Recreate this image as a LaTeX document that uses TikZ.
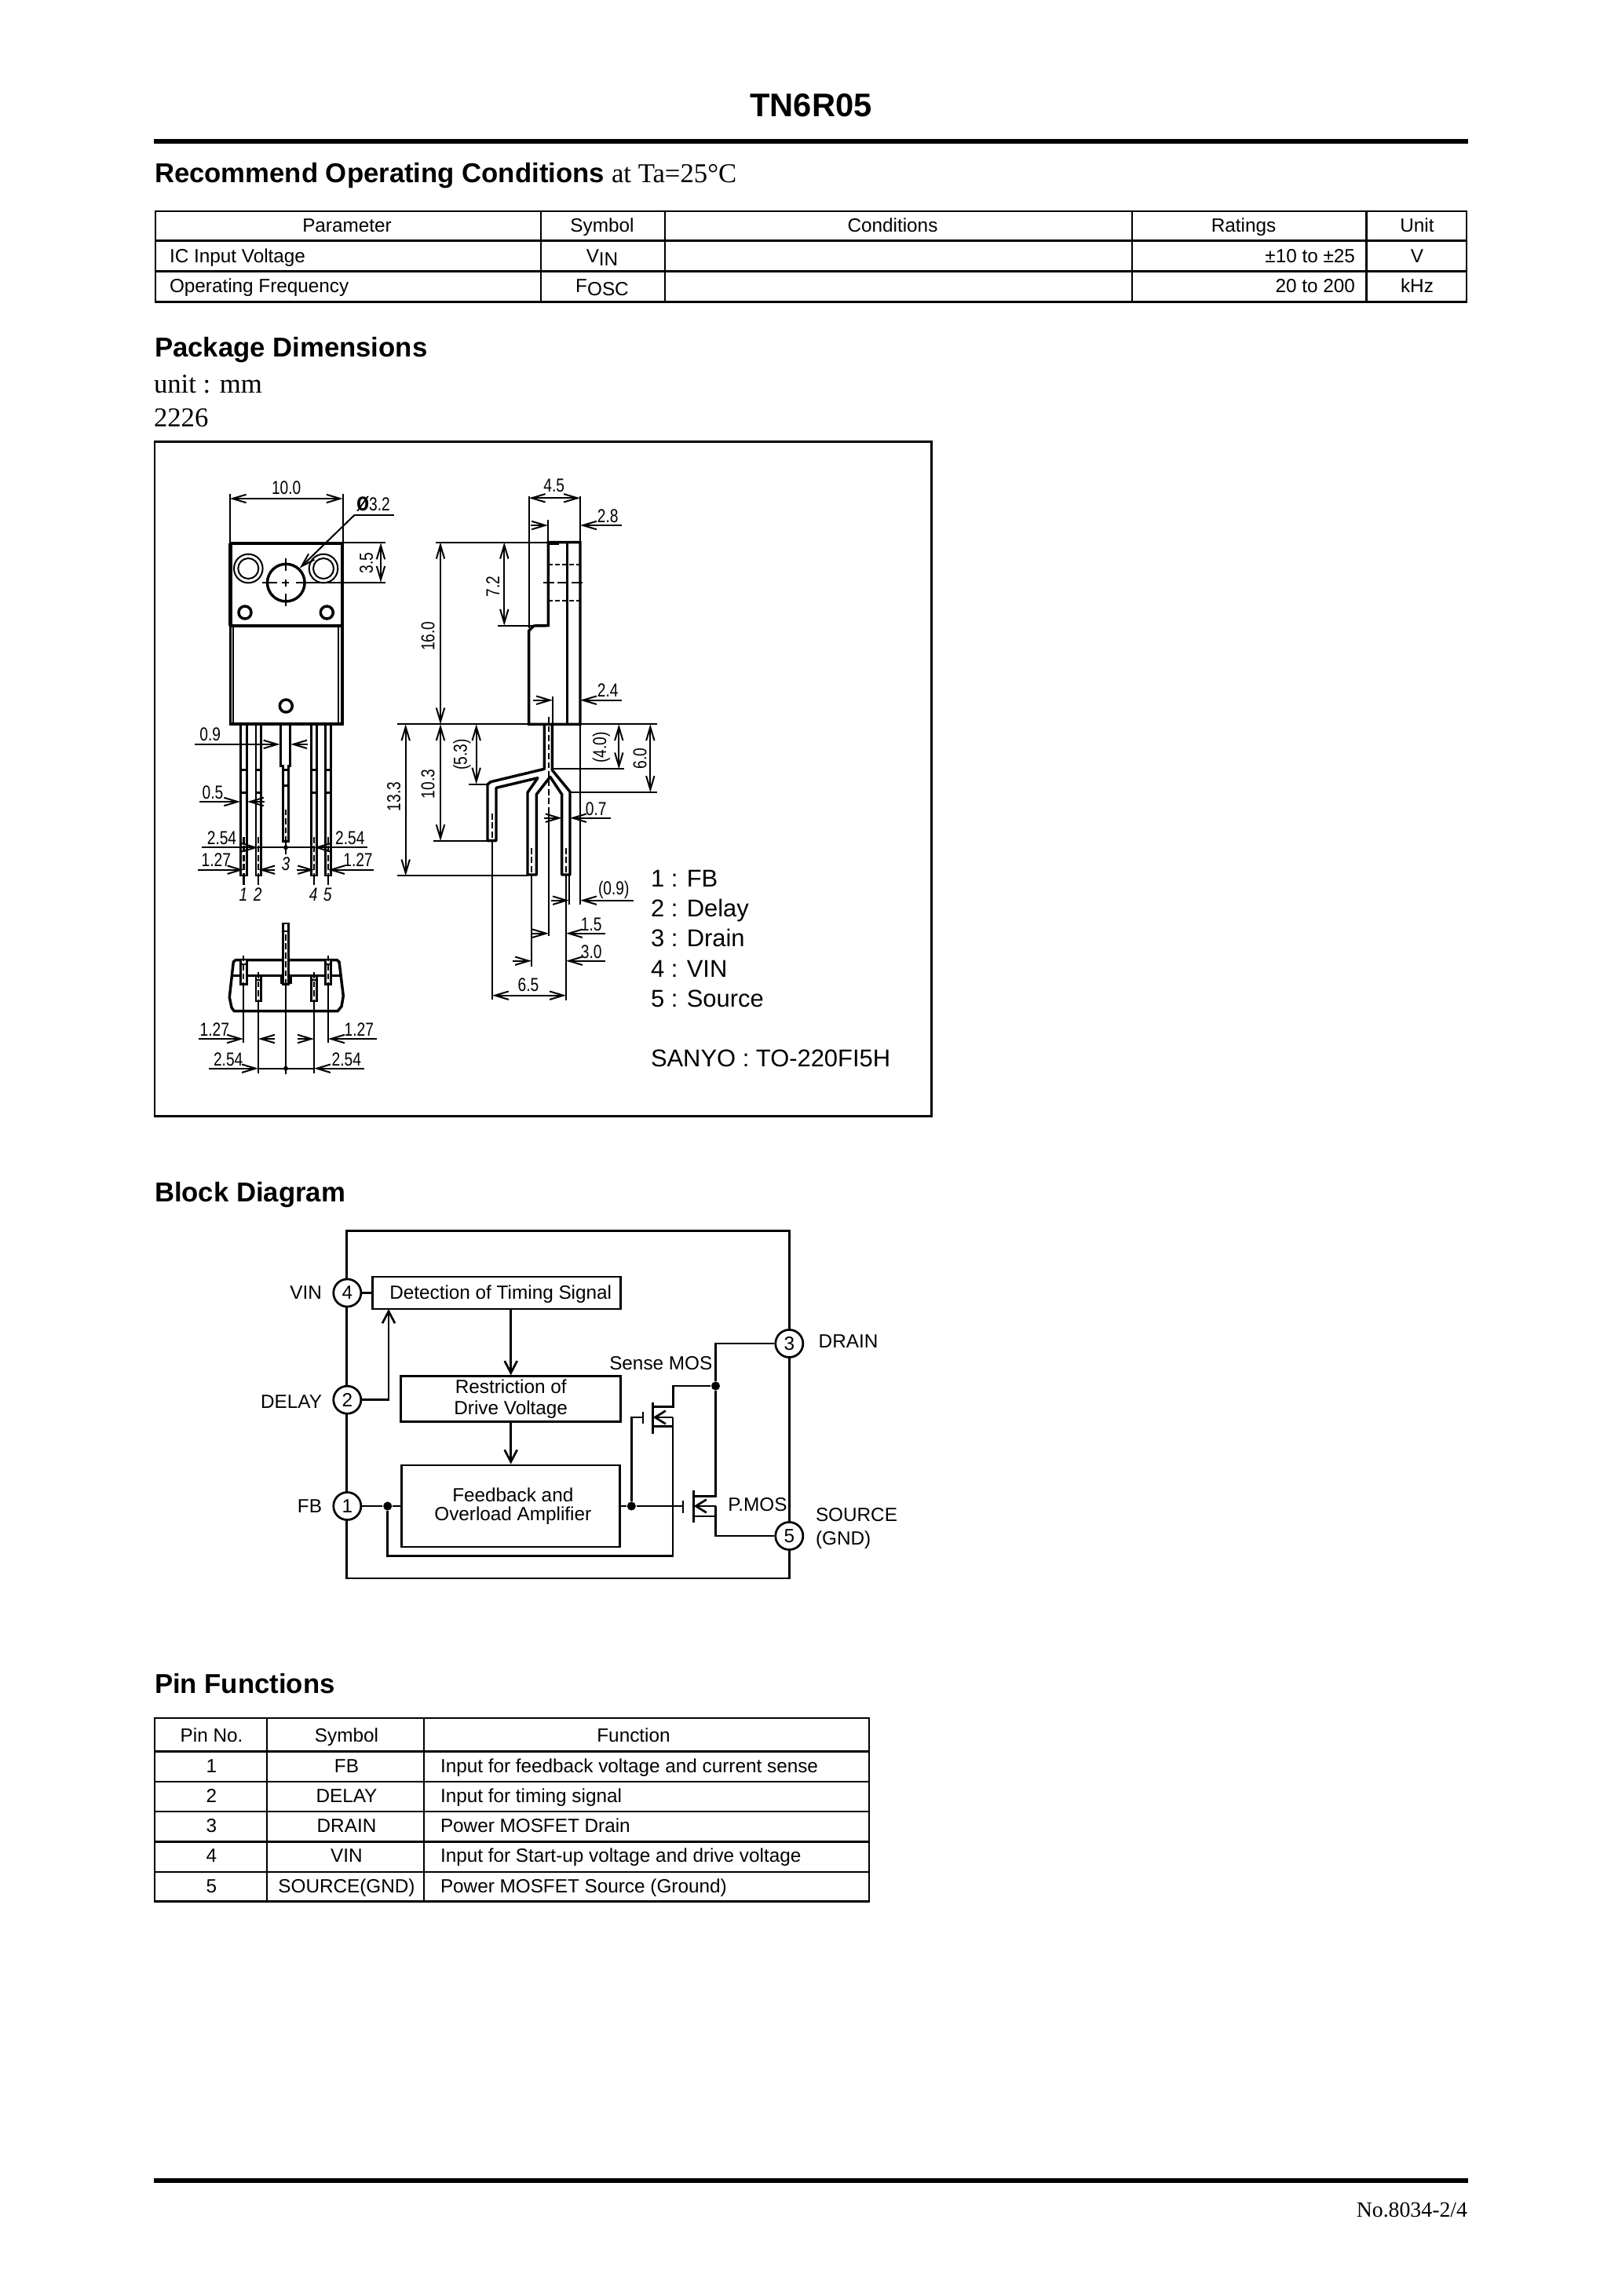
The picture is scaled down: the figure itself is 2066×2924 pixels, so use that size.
\documentclass[tikz,border=0pt]{standalone}
\usepackage{fontspec}
\usetikzlibrary{arrows.meta}
\setmainfont{Liberation Sans}
\newfontfamily\serifpart{Liberation Serif}
\newfontfamily\narrowpart[FakeStretch=0.8]{Liberation Sans}
\newcommand{\titlefont}{\fontsize{12}{14}\bfseries\selectfont}
\newcommand{\headfont}{\fontsize{10}{12}\bfseries\selectfont}
\newcommand{\tablefont}{\fontsize{7}{8}\selectfont}
\newcommand{\dimfont}{\narrowpart\fontsize{6.9}{8}\selectfont}
\tikzset{
    thinline/.style={line width=0.58pt},
    bodyline/.style={line width=1pt},
    tableline/.style={line width=0.72pt},
    wire/.style={line width=0.78pt},
    hiddenline/.style={thinline, dash pattern=on 2.2pt off 1.1pt},
    barb/.style={>={Straight Barb[length=5pt,width=3pt]}},
    dimline/.style={thinline, barb, <->},
    dimto/.style={thinline, barb, ->},
    wireto/.style={wire, >={Straight Barb[length=4.4pt,width=4.6pt]}, ->},
    mosto/.style={wire, >={Straight Barb[length=3.9pt,width=4.8pt]}, ->},
    plain/.style={inner sep=0pt, outer sep=0pt},
    heading/.style={plain, anchor=base west, font=\headfont},
    serifnote/.style={plain, anchor=base west, font=\serifpart\fontsize{10}{12}\selectfont},
    celltext/.style={plain, anchor=base, font=\tablefont},
    cellleft/.style={plain, anchor=base west, font=\tablefont},
    dimlabel/.style={plain, anchor=base, font=\dimfont},
    dimside/.style={plain, rotate=90, font=\dimfont},
    pinmark/.style={plain, anchor=base, font=\dimfont\itshape},
    legend/.style={plain, anchor=base west, font=\fontsize{8.9}{11}\selectfont},
    blockbox/.style={draw, wire, fill=white, inner sep=0pt, align=center},
    pinnode/.style={draw, wire, circle, fill=white, inner sep=0pt, minimum size=10.1pt, font=\tablefont},
    dotnode/.style={circle, fill, inner sep=0pt, minimum size=3.2pt},
    sidename/.style={plain, font=\tablefont},
}
\begin{document}
\begin{tikzpicture}[x=0.288pt, y=-0.288pt]
    \useasboundingbox (0,0) rectangle (2066,2924);

    % page head
    \node[plain, anchor=base, font=\titlefont] (pagetitle) at (1033,148) {TN6R05};
    \draw[line width=1.6pt] (196,180) -- (1869.5,180);
    \node[heading] (condhead) at (197,232.5) {Recommend Operating Conditions};
    \node[plain, anchor=base west, font=\serifpart\fontsize{10}{12}\selectfont] (condnote) at (779,232.5) {at Ta=25°C};

    % conditions table
    \draw[tableline] (197.8,269) rectangle (1868,384.3);
    \draw[tableline] (197.8,306.7) -- (1868,306.7);
    \draw[tableline] (197.8,345.7) -- (1868,345.7);
    \foreach \colx in {689,847,1442,1740.5}
        \draw[tableline] (\colx,269) -- (\colx,384.3);
    \node[celltext] (cparam) at (442,295.5) {Parameter};
    \node[celltext] (csym) at (767,295.5) {Symbol};
    \node[celltext] (ccond) at (1137,295.5) {Conditions};
    \node[celltext] (crate) at (1584,295.5) {Ratings};
    \node[celltext] (cunit) at (1805,295.5) {Unit};
    \node[cellleft] (cvin) at (216,334) {IC Input Voltage};
    \node[cellleft] (cfreq) at (216,372.7) {Operating Frequency};
    \node[celltext] (cvinsym) at (767,334) {V\raisebox{-1.2pt}{IN}};
    \node[celltext] (cfoscsym) at (767,372.7) {F\raisebox{-1.2pt}{OSC}};
    \node[plain, anchor=base east, font=\tablefont] (cvinval) at (1726,334) {±10 to ±25};
    \node[plain, anchor=base east, font=\tablefont] (cfreqval) at (1726,372.7) {20 to 200};
    \node[celltext] (cvinunit) at (1805,334) {V};
    \node[celltext] (cfrequnit) at (1805,372.7) {kHz};

    \node[heading] (packhead) at (197,454.5) {Package Dimensions};
    \node[serifnote] (unitnote) at (196,500) {unit : mm};
    \node[serifnote] (codenote) at (196,543) {2226};
    \draw[tableline] (197,562.7) rectangle (1186.7,1421.7);

    % front view, body
    \draw[bodyline] (293.5,692) rectangle (436,922);
    \draw[line width=1.2pt] (293.5,692) -- (436,692);
    \draw[line width=1.2pt] (293.5,692) -- (293.5,796.8);
    \draw[line width=1.2pt] (436,692) -- (436,796.8);
    \draw[line width=1.2pt] (293.5,796.8) -- (436,796.8);
    \draw[thinline] (297.3,796.8) -- (297.3,922);
    \draw[thinline] (430.7,796.8) -- (430.7,922);
    \draw[bodyline] (364.3,742.1) circle (23.8);
    \draw[thinline] (316.3,724) circle (18.3);
    \draw[thinline] (316.3,724) circle (13);
    \draw[thinline] (412,724) circle (18.3);
    \draw[thinline] (412,724) circle (13);
    \draw[bodyline] (312,780) circle (8);
    \draw[bodyline] (416.3,780) circle (8);
    \draw[bodyline] (364.3,899) circle (8);
    \draw[thinline] (364.3,711) -- (364.3,727);
    \draw[thinline] (364.3,738) -- (364.3,747);
    \draw[thinline] (364.3,756) -- (364.3,772);
    \draw[thinline] (334,742.1) -- (352.7,742.1);
    \draw[thinline] (359,742.1) -- (368.3,742.1);
    \draw[thinline] (376.7,742.1) -- (490.7,742.1);

    % front view, leads
    \foreach \la/\lb/\lc in {306.8/314.4/310.5, 326/332.6/329.3, 396.7/403.7/400.2, 414.7/421.3/418}{
        \draw[line width=0.85pt] (\la,922) rectangle (\lb,1115);
        \draw[line width=0.85pt] (\la,980.7) -- (\lb,980.7);
        \draw[line width=0.85pt] (\la,1009.3) -- (\lb,1009.3);
        \draw[hiddenline] (\lc,1066) -- (\lc,1115);
        \draw[thinline] (\lc,1115) -- (\lc,1126.7);
    }
    \draw[line width=0.85pt] (357.7,922) -- (357.7,975.4) -- (360.3,975.4) -- (360.3,1071.8) -- (367.3,1071.8) -- (367.3,975.4) -- (369.7,975.4) -- (369.7,922);
    \draw[line width=0.85pt] (360.3,980.7) -- (367.3,980.7);
    \draw[line width=0.85pt] (360.3,1000.4) -- (367.3,1000.4);
    \draw[hiddenline] (364,1030.7) -- (364,1070);
    \draw[thinline] (364,1072) -- (364,1088.3);
    \fill (364,1079.3) circle (3);

    % front view, dimensions
    \draw[thinline] (292.7,629) -- (292.7,691);
    \draw[thinline] (436.7,629) -- (436.7,691);
    \draw[dimline] (292.7,635) -- (436.7,635);
    \node[dimlabel] (dten) at (364.7,629) {10.0};
    \draw[thinline] (501.7,655.7) -- (451.7,655.7);
    \draw[dimto] (451.7,655.7) -- (381.7,723.6);
    \node[plain, anchor=base west, font=\dimfont] (dhole) at (454,650) {{\bfseries\fontsize{9.5}{9.5}\selectfont ø}3.2};
    \draw[thinline] (436.7,691.4) -- (490.7,691.4);
    \draw[dimline] (485,691.4) -- (485,741.8);
    \node[dimside] (dtabhole) at (466.7,717) {3.5};
    \draw[dimto] (248.3,947.9) -- (356.5,947.9);
    \draw[dimto] (391.7,947.9) -- (370.2,947.9);
    \node[dimlabel] (dninea) at (267.7,943.2) {0.9};
    \draw[dimto] (254.3,1021) -- (306.2,1021);
    \draw[dimto] (336.7,1021) -- (315,1021);
    \node[dimlabel] (dfive) at (271,1017) {0.5};
    \draw[dimto] (257.3,1079.3) -- (329,1079.3);
    \draw[thinline] (329,1079.3) -- (400,1079.3);
    \draw[dimto] (467.7,1079.3) -- (400,1079.3);
    \node[dimlabel] (dpitcha) at (282.5,1075) {2.54};
    \node[dimlabel] (dpitchb) at (445.8,1075) {2.54};
    \draw[dimto] (251.7,1107.7) -- (310.5,1107.7);
    \draw[dimto] (350,1107.7) -- (329.3,1107.7);
    \draw[dimto] (378.3,1107.7) -- (400.2,1107.7);
    \draw[dimto] (476,1107.7) -- (418,1107.7);
    \node[dimlabel] (dhalfa) at (275.3,1103.3) {1.27};
    \node[dimlabel] (dhalfb) at (456,1103.3) {1.27};
    \node[pinmark] (mkone) at (310,1147.3) {1};
    \node[pinmark] (mktwo) at (328.3,1147.3) {2};
    \node[pinmark] (mkthree) at (364,1108.3) {3};
    \node[pinmark] (mkfour) at (399.3,1147.3) {4};
    \node[pinmark] (mkfive) at (417.3,1147.3) {5};

    % bottom view
    \draw[bodyline] (300,1222.7) -- (297.3,1225) -- (292.3,1270) -- (295,1283.3) -- (298.3,1287.7) -- (430,1287.7) -- (435,1281.7) -- (437.3,1268.3) -- (432,1225) -- (429.3,1222.7) -- cycle;
    \draw[bodyline] (295,1242.3) -- (433.3,1242.3);
    \fill (356.7,1242.3) rectangle (371.7,1253.3);
    \foreach \la/\lb/\ta/\tb in {306.8/314.4/1222/1253.3, 414.7/421.3/1222/1253.3, 326/332.6/1242.3/1275, 396.7/403.7/1242.3/1275, 360.5/367.5/1176/1253.3}
        \filldraw[line width=0.85pt, fill=white] (\la,\ta) rectangle (\lb,\tb);
    \draw[line width=0.85pt] (360.5,1186) -- (367.5,1186);
    \draw[line width=0.85pt] (306.8,1228) -- (314.4,1228);
    \draw[line width=0.85pt] (414.7,1228) -- (421.3,1228);
    \draw[line width=0.85pt] (326,1248) -- (332.6,1248);
    \draw[line width=0.85pt] (396.7,1248) -- (403.7,1248);
    \foreach \lc/\ta/\tb/\tc in {310/1216.7/1253.3/1328.3, 418/1216.7/1253.3/1328.3, 329/1238.3/1275/1366.7, 400/1238.3/1275/1366.7, 364/1190/1253.3/1368.3}{
        \draw[hiddenline] (\lc,\ta) -- (\lc,\tb);
        \draw[thinline] (\lc,\tb) -- (\lc,\tc);
    }
    \draw[dimto] (253.3,1323) -- (310,1323);
    \draw[dimto] (350,1323) -- (329,1323);
    \draw[dimto] (379,1323) -- (400,1323);
    \draw[dimto] (480,1323) -- (418,1323);
    \node[dimlabel] (dbhalfa) at (273.3,1319) {1.27};
    \node[dimlabel] (dbhalfb) at (457.3,1319) {1.27};
    \draw[dimto] (266,1360.7) -- (329,1360.7);
    \draw[thinline] (329,1360.7) -- (400,1360.7);
    \draw[dimto] (464,1360.7) -- (400,1360.7);
    \fill (364,1360.7) circle (3);
    \node[dimlabel] (dbpitcha) at (290.7,1357.3) {2.54};
    \node[dimlabel] (dbpitchb) at (441.3,1357.3) {2.54};

    % side view
    \draw[bodyline] (698.3,690.7) -- (739,690.7) -- (739,922.3) -- (673.7,922.3) -- (673.7,803.3) -- (680,797) -- (698.3,796.7) -- cycle;
    \draw[line width=1.2pt] (698.3,691.5) -- (712,691.5);
    \draw[bodyline] (722.7,690.7) -- (722.7,922.3);
    \draw[thinline] (555,690.7) -- (739,690.7);
    \draw[thinline] (506,922.3) -- (836.7,922.3);
    \draw[thinline] (739,922.3) -- (739,1151.7);
    \draw[thinline] (634.3,796.7) -- (698.3,796.7);
    \draw[thinline, dash pattern=on 1.6pt off 1pt] (698.3,718.7) -- (739,718.7);
    \draw[thinline, dash pattern=on 1.6pt off 1pt] (698.3,764.7) -- (739,764.7);
    \draw[thinline, dash pattern=on 4pt off 1.2pt] (692.3,741.7) -- (745,741.7);
    \draw[thinline] (673.7,631.7) -- (673.7,800);
    \draw[thinline] (739,631.7) -- (739,690.7);
    \draw[thinline] (698,662.3) -- (698,690.7);
    \draw[thinline] (704,887.3) -- (704,922.3);

    % side view, bent leads
    \draw[bodyline, line join=round] (693.3,922.3) -- (693.3,979.3) -- (625,995.7) -- (621,999) -- (621,1070.7) -- (632,1070.7) -- (632,1003.3) -- (685,990.7) -- (672,1009.3) -- (672,1114) -- (683.3,1114) -- (683.3,1011.7) -- (700.7,989.3) -- (715.7,1011.7) -- (715.7,1114) -- (726,1114) -- (726,1008.3) -- (703.3,980.7) -- (703.3,922.3);
    \draw[hiddenline] (699,913.3) -- (699,1030);
    \draw[thinline] (699,1030) -- (699,1191.7);
    \draw[hiddenline] (627,1036) -- (627,1070.7);
    \draw[thinline] (627,1070.7) -- (627,1273.3);
    \draw[hiddenline] (677,1080) -- (677,1114);
    \draw[thinline] (677,1114) -- (677,1230.7);
    \draw[hiddenline] (721,1080) -- (721,1114);
    \draw[thinline] (721,1114) -- (721,1274);
    \draw[thinline] (725,1114) -- (725,1151.7);

    % side view, dimensions
    \draw[dimline] (673.7,634.3) -- (739,634.3);
    \node[dimlabel] (dthick) at (705.7,626.7) {4.5};
    \draw[dimto] (676,669) -- (698,669);
    \draw[dimto] (791.7,669) -- (739,669);
    \node[dimlabel] (dtabw) at (774.3,665) {2.8};
    \draw[dimline] (642.3,690.7) -- (642.3,796.7);
    \node[dimside] (dtabh) at (627.7,747.3) {7.2};
    \draw[dimline] (561,690.7) -- (561,922.3);
    \node[dimside] (dbody) at (545,810) {16.0};
    \draw[dimto] (679.3,891.7) -- (704,891.7);
    \draw[dimto] (791.7,891.7) -- (739,891.7);
    \node[dimlabel] (dlower) at (774.3,887.3) {2.4};
    \draw[thinline] (506,1115.4) -- (671.7,1115.4);
    \draw[dimline] (516.7,922.3) -- (516.7,1115.4);
    \node[dimside] (dtotal) at (501.7,1014.6) {13.3};
    \draw[thinline] (552.3,1071) -- (621,1071);
    \draw[dimline] (561,922.3) -- (561,1071);
    \node[dimside] (dshort) at (545,998.6) {10.3};
    \draw[thinline] (597.3,998.6) -- (621.7,998.6);
    \draw[dimline] (606.7,922.3) -- (606.7,998.6);
    \node[dimside] (dbend) at (588.3,961) {(5.3)};
    \draw[thinline] (703.3,979.3) -- (795,979.3);
    \draw[dimline] (788.3,922.3) -- (788.3,979.3);
    \node[dimside] (dsplit) at (766,951.7) {(4.0)};
    \draw[thinline] (726,1009) -- (836.7,1009);
    \draw[dimline] (828.3,922.3) -- (828.3,1009);
    \node[dimside] (dfork) at (815,966) {6.0};
    \draw[dimto] (693.3,1041.7) -- (715.7,1041.7);
    \draw[dimto] (777.7,1041.7) -- (726,1041.7);
    \node[dimlabel] (dlead) at (759.3,1038.3) {0.7};
    \draw[dimto] (702.3,1146.7) -- (725,1146.7);
    \draw[dimto] (806.7,1146.7) -- (739,1146.7);
    \node[dimlabel] (dninec) at (781.7,1139) {(0.9)};
    \draw[dimto] (677.7,1188.7) -- (699,1188.7);
    \draw[dimto] (770.7,1188.7) -- (721,1188.7);
    \node[dimlabel] (doffset) at (753.3,1185) {1.5};
    \draw[dimto] (653.3,1223.7) -- (677,1223.7);
    \draw[dimto] (770.7,1223.7) -- (721,1223.7);
    \node[dimlabel] (dspan) at (753.3,1220) {3.0};
    \draw[dimline] (627,1267.7) -- (721,1267.7);
    \node[dimlabel] (dwide) at (673,1262.3) {6.5};

    % pin list
    \node[legend] (lgone) at (829,1129) {1 : FB};
    \node[legend] (lgtwo) at (829,1167.3) {2 : Delay};
    \node[legend] (lgthree) at (829,1205) {3 : Drain};
    \node[legend] (lgfour) at (829,1244) {4 : VIN};
    \node[legend] (lgfive) at (829,1282.7) {5 : Source};
    \node[legend] (lgcase) at (829,1358) {SANYO : TO-220FI5H};

    % block diagram
    \node[heading] (blockhead) at (197,1530.5) {Block Diagram};
    \coordinate (frametl) at (441.7,1567.3);
    \coordinate (framebr) at (1005.3,2010);
    \draw[wire] (frametl) rectangle (framebr);
    \node[blockbox, font=\tablefont, minimum width=91.1pt, minimum height=11.8pt, text height=6pt, text depth=1.34pt] (detbox) at (632.5,1646.5) {\hspace*{3pt}Detection of Timing Signal};
    \node[blockbox, font=\fontsize{7}{7.6}\selectfont, minimum width=80.6pt, minimum height=16.6pt] (restbox) at (650.7,1781.5) {Restriction of\\Drive Voltage};
    \node[blockbox, font=\fontsize{7}{6.9}\selectfont, minimum width=80pt, minimum height=30pt] (feedbox) at (650.7,1918) {\hspace*{1.5pt}Feedback and\\\hspace*{1.5pt}Overload Amplifier};
    \node[pinnode] (pinvin) at (442.3,1646.5) {4};
    \node[pinnode] (pindelay) at (442.3,1782.7) {2};
    \node[pinnode] (pinfb) at (442.3,1918) {1};
    \node[pinnode] (pindrain) at (1005.3,1711) {3};
    \node[pinnode] (pinsource) at (1005.3,1956) {5};
    \node[sidename, anchor=base east] (lbvin) at (410,1654.3) {VIN};
    \node[sidename, anchor=base east] (lbdelay) at (410,1793) {DELAY};
    \node[sidename, anchor=base east] (lbfb) at (410,1926.7) {FB};
    \node[sidename, anchor=base west] (lbdrain) at (1042.7,1716.7) {DRAIN};
    \node[sidename, anchor=base west] (lbsource) at (1039,1937.7) {SOURCE};
    \node[sidename, anchor=base west] (lbgnd) at (1039,1967.7) {(GND)};
    \node[sidename, anchor=base east] (lbsense) at (907.3,1744) {Sense MOS};
    \node[sidename, anchor=base west] (lbpmos) at (927.3,1924.3) {P.MOS};

    \coordinate (delayup) at (495,1667);
    \draw[wire] (pinvin) -- (detbox);
    \draw[wireto] (pindelay.east) -| (delayup);
    \draw[wireto] (detbox.south -| restbox.north) -- (restbox.north);
    \draw[wireto] (restbox) -- (feedbox);

    \node[dotnode] (fbdot) at (493.7,1918) {};
    \node[dotnode] (outdot) at (804.3,1918) {};
    \node[dotnode] (draindot) at (911.5,1765) {};
    \coordinate (sgate) at (819,1805);
    \coordinate (schan) at (831.7,1805);
    \coordinate (sdrain) at (831.7,1791.7);
    \coordinate (sbody) at (831.7,1816.7);
    \coordinate (sjoin) at (857,1805);
    \coordinate (rcorner) at (857,1981.5);
    \coordinate (pgate) at (870,1918);
    \coordinate (pchan) at (883.7,1918);
    \coordinate (pdrain) at (883.7,1905.7);
    \coordinate (pbody) at (883.7,1931);
    \coordinate (pjoin) at (911.5,1918);
    \coordinate (pturn) at (911.5,1905.7);

    \draw[wire] (pinfb) -- (fbdot) -- (feedbox);
    \draw[wire] (fbdot) |- (rcorner) -- (sjoin);
    \draw[wire] (feedbox) -- (outdot) -- (pgate);
    \draw[wire] (outdot) |- (sgate);

    % sense mos
    \draw[wire] (819,1798.3) -- (819,1813.3);
    \draw[wire] (831.7,1785.7) -- (831.7,1826);
    \draw[mosto] (sjoin) -- (schan);
    \draw[wire] (sdrain) -- (857.3,1791.7) -- (857.3,1765) -- (draindot);
    \draw[wire] (sbody) -- (sbody -| sjoin);

    % power mos
    \draw[wire] (870,1911) -- (870,1926.7);
    \draw[wire] (883.7,1898.3) -- (883.7,1939.3);
    \draw[mosto] (pjoin) -- (pchan);
    \draw[wire] (pdrain) -- (pturn) -- (draindot);
    \draw[wire] (pbody) -- (pbody -| pjoin);
    \draw[wire] (draindot) |- (pindrain);
    \draw[wire] (pjoin) |- (pinsource);

    % pin table
    \node[heading] (pinhead) at (197,2156) {Pin Functions};
    \draw[tableline] (197,2188) rectangle (1107,2421.7);
    \foreach \rowy in {2230.7,2269,2307,2345.7,2384}
        \draw[tableline] (197,\rowy) -- (1107,\rowy);
    \draw[tableline] (340,2188) -- (340,2421.7);
    \draw[tableline] (540,2188) -- (540,2421.7);
    \node[celltext] (pnhead) at (269.5,2218) {Pin No.};
    \node[celltext] (pshead) at (441.5,2218) {Symbol};
    \node[celltext] (pfhead) at (807,2218) {Function};
    \foreach \num/\rowy/\sym/\what in {
        1/2257.7/FB/Input for feedback voltage and current sense,
        2/2295.7/DELAY/Input for timing signal,
        3/2333.7/DRAIN/Power MOSFET Drain,
        4/2371.7/VIN/Input for Start-up voltage and drive voltage,
        5/2410/SOURCE(GND)/Power MOSFET Source (Ground)}{
        \node[celltext] (pno\num) at (269.5,\rowy) {\num};
        \node[celltext] (psym\num) at (441.5,\rowy) {\sym};
        \node[cellleft] (pfun\num) at (561,\rowy) {\what};
    }

    % page foot
    \draw[line width=1.6pt] (196,2777) -- (1869.5,2777);
    \node[plain, anchor=base east, font=\serifpart\fontsize{8}{10}\selectfont] (pagefoot) at (1869,2823) {No.8034-2/4};
\end{tikzpicture}
\end{document}
